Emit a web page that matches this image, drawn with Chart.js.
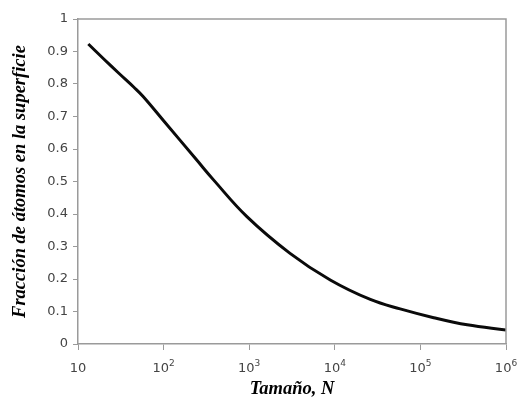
<!DOCTYPE html>
<html>
<head>
<meta charset="utf-8">
<script src="https://cdn.jsdelivr.net/npm/chart.js@4/dist/chart.umd.min.js"></script>
<style>
    html, body { margin: 0; padding: 0; background: #fff; }
    #wrap { width: 517px; height: 397px; }
</style>
</head>
<body>
<div id="wrap"><canvas id="chart" width="517" height="397"></canvas></div>
<script>
// particle size N (log axis) and fraction of atoms at the surface
const sizes = [13.2, 20, 30, 45, 58, 100, 244, 383, 940, 3000, 8850, 26000, 58000, 143000, 352000, 1000000];
const fractions = [0.923, 0.877, 0.833, 0.790, 0.761, 0.687, 0.566, 0.505, 0.392, 0.279, 0.197, 0.137, 0.108, 0.081, 0.059, 0.043];

const xTicks = [10, 100, 1000, 10000, 100000, 1000000];
const xTickExponents = ['', '2', '3', '4', '5', '6'];
const yTicks = [0, 0.1, 0.2, 0.3, 0.4, 0.5, 0.6, 0.7, 0.8, 0.9, 1];

const xTitle = 'Tamaño, N';
const yTitle = 'Fracción de átomos en la superficie';

const axisGray = '#9a9a9a';
const labelGray = '#444';
const tickFont = { family: 'DejaVu Sans', size: 13 };
const titleFont = { family: 'Liberation Serif', size: 18.5, weight: 'bold', style: 'italic' };

// gray frame on top and right, and x labels as 10 with superscript exponent
const frame = {
    id: 'frame',
    afterDraw(chart) {
        const { ctx, chartArea: a } = chart;
        const xs = chart.scales.x;
        ctx.save();
        ctx.strokeStyle = axisGray;
        ctx.lineWidth = 1.5;
        ctx.beginPath();
        ctx.moveTo(a.left, a.top);
        ctx.lineTo(a.right, a.top);
        ctx.lineTo(a.right, a.bottom);
        ctx.stroke();

        ctx.fillStyle = labelGray;
        ctx.textBaseline = 'alphabetic';
        ctx.textAlign = 'left';
        xTicks.forEach((v, i) => {
            const px = xs.getPixelForValue(v);
            const base = a.bottom + 28;
            const exp = xTickExponents[i];
            ctx.font = '13px "DejaVu Sans"';
            const w1 = ctx.measureText('10').width;
            ctx.font = '9px "DejaVu Sans"';
            const w2 = exp ? ctx.measureText(exp).width : 0;
            const x0 = px - (w1 + w2) / 2;
            ctx.font = '13px "DejaVu Sans"';
            ctx.fillText('10', x0, base);
            if (exp) {
                ctx.font = '9px "DejaVu Sans"';
                ctx.fillText(exp, x0 + w1, base - 6);
            }
        });
        ctx.restore();
    }
};

new Chart(document.getElementById('chart'), {
    type: 'line',
    data: {
        datasets: [{
            data: sizes.map((n, i) => ({ x: n, y: fractions[i] })),
            borderColor: '#0a0a0a',
            borderWidth: 3,
            pointRadius: 0,
            tension: 0.4,
            fill: false
        }]
    },
    options: {
        responsive: false,
        animation: false,
        layout: { padding: { top: 19, right: 11, left: 0, bottom: 0 } },
        plugins: { legend: { display: false }, tooltip: { enabled: false } },
        scales: {
            x: {
                type: 'logarithmic',
                min: 10,
                max: 1000000,
                afterBuildTicks: scale => { scale.ticks = xTicks.map(v => ({ value: v })); },
                afterFit: scale => { scale.height = 53; },
                ticks: {
                    font: tickFont,
                    maxRotation: 0,
                    padding: 4,
                    callback: () => ''
                },
                grid: { drawOnChartArea: false, drawTicks: true, tickLength: 6, color: axisGray },
                border: { color: axisGray, width: 1.5 },
                title: { display: true, text: xTitle, color: '#000', font: titleFont, padding: { top: 0, bottom: -3 } }
            },
            y: {
                min: 0,
                max: 1,
                afterBuildTicks: scale => { scale.ticks = yTicks.map(v => ({ value: v })); },
                afterFit: scale => { scale.width = 78; },
                ticks: { color: labelGray, font: tickFont, padding: 5, callback: v => String(v) },
                grid: { drawOnChartArea: false, drawTicks: true, tickLength: 5, color: axisGray },
                border: { color: axisGray, width: 1.5 },
                title: { display: true, text: yTitle, color: '#000', font: titleFont, padding: { top: 9, bottom: 0 } }
            }
        }
    },
    plugins: [frame]
});
</script>
</body>
</html>
